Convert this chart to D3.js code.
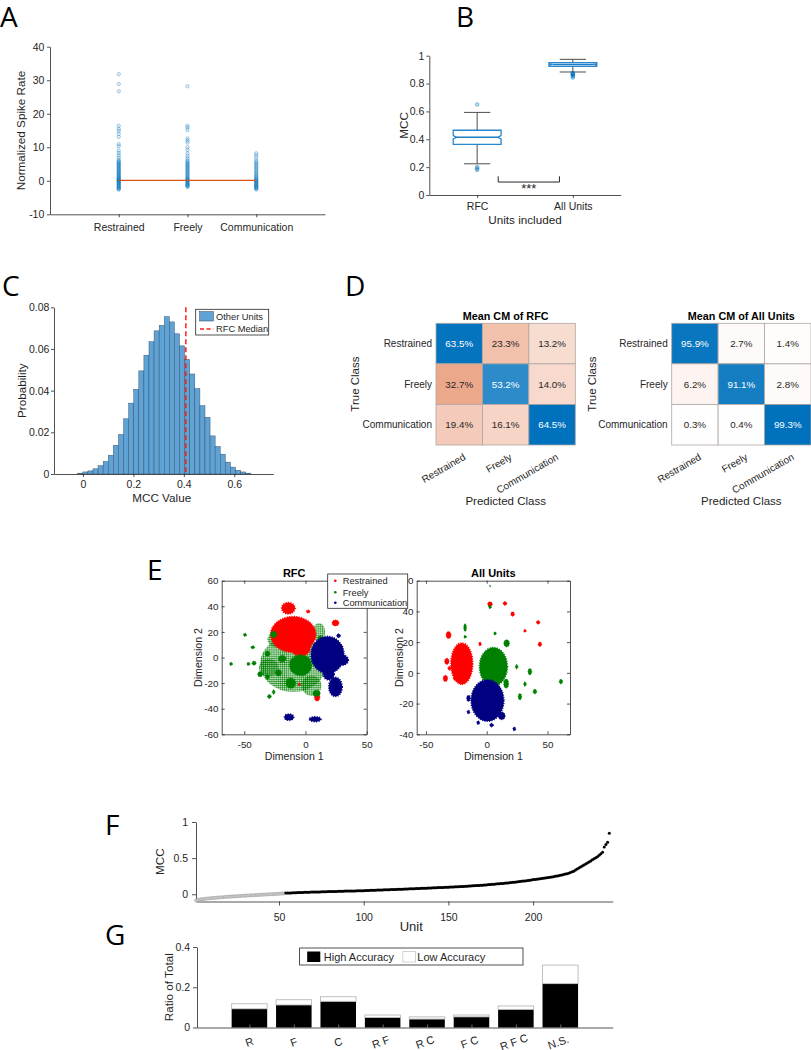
<!DOCTYPE html>
<html><head><meta charset="utf-8">
<script src="https://cdn.jsdelivr.net/npm/d3@7"></script>
<style>
body{margin:0;background:#fff;}
svg{display:block;background:#fff;}
</style></head><body>
<svg id="fig" width="811" height="1050"></svg>
<script>
// ================= DATA =================
// Panel A
const aCategories = ["Restrained","Freely","Communication"];
const aRestrained = [31.8,28.9,26.7,16.4,15.5,14.9,14.0,13.1,10.9,10.3,9.0,8.3,7.6,6.9,6.3,5.9,5.6,5.4,5.1,4.9,4.6,4.4,4.1,3.9,3.6,3.4,3.1,2.9,2.6,2.4,2.1,1.9,1.7,1.4,1.2,1.0,0.8,0.6,0.4,0.3,0.1,0.0,-0.1,-0.3,-0.5,-0.7,-0.9,-1.1,-1.3,-1.5,-1.7,-1.9,-2.1,-2.3,-2.5,-2.6];
const aFreely = [28.2,16.4,15.9,15.1,12.6,12.0,11.4,10.0,9.2,8.2,7.4,6.7,6.1,5.7,5.4,5.1,4.8,4.5,4.2,3.9,3.6,3.3,3.0,2.7,2.4,2.1,1.8,1.5,1.2,0.9,0.7,0.5,0.3,0.1,-0.1,-0.3,-0.5,-0.7,-0.9,-1.1,-1.3,-1.5,-1.7,-1.8];
const aCommunication = [8.2,7.6,6.9,6.1,5.6,5.2,4.8,4.4,4.0,3.6,3.2,2.8,2.4,2.0,1.6,1.3,1.0,0.7,0.4,0.2,0.0,-0.2,-0.4,-0.6,-0.8,-1.0,-1.2,-1.4,-1.6,-1.8,-2.0,-2.2,-2.4,-2.6];
const aMedians = [0.1,0.1,0.1];

// Panel B
const bCategories = ["RFC","All Units"];
const bQ1 = [0.364,0.923];
const bMedian = [0.414,0.937];
const bQ3 = [0.465,0.951];
const bWhiskerLow = [0.224,0.883];
const bWhiskerHigh = [0.593,0.974];
const bNotch = [0.012,0.004];
const bOutliers = [[0.65,0.20,0.19,0.18],[0.876,0.872,0.868,0.864,0.86,0.852,0.843]];

// Panel C
const cBinStart = -0.021;
const cBinWidth = 0.0202;
const cProbability = [0.0004,0.001,0.0015,0.0025,0.004,0.006,0.009,0.0138,0.019,0.0265,0.034,0.0406,0.0495,0.057,0.0635,0.0687,0.0713,0.0755,0.073,0.0673,0.0615,0.055,0.048,0.041,0.0328,0.0272,0.0183,0.0132,0.0095,0.0057,0.0033,0.0018,0.001,0.0004];
const cRfcMedian = 0.408;
const cLegend = ["Other Units","RFC Median"];

// Panel D
const dClasses = ["Restrained","Freely","Communication"];
const dCmRfc = [[63.5,23.3,13.2],[32.7,53.2,14.0],[19.4,16.1,64.5]];
const dCmAll = [[95.9,2.7,1.4],[6.2,91.1,2.8],[0.3,0.4,99.3]];

// Panel E  (clusters: [x, y, rx, ry] in t-SNE units)
const eGroups = ["Restrained","Freely","Communication"];
const eRfcRestrained = [[-10,18,18.5,14],[-4,8,8,7],[-14,38.5,5.5,4.5],[2.2,36,1.5,1.2],[24.5,27,2.8,2.3],[9.5,-31,2.2,3],[-5,-21,1,1],[12,-9.6,0.8,0.8],[29.7,8.6,0.8,0.8]];
const eRfcFreelyDiffuse = [[-10,-5,27,22],[11,20,5,7],[-24,14,7,6],[-30,-8,8,7],[5,-22,8,8]];
const eRfcFreely = [[-4,-6,9,8],[-49.4,17.7,1.3,1.3],[-43,8,1.5,1.2],[-42,-4.4,1.6,1.6],[-46.6,-5,1.2,1.2],[-60.8,-5,1.2,1.2],[-37,-13,2,2],[-31,-15,1.5,2],[-29.5,-30.5,1.5,1.5],[-26,-27,1,1.8],[-31,3,2,2],[-26,18,2.5,2.5],[-19,-1,3,2.5],[9,-28,3,2.5],[-12,-20,4,4],[-22,-12,2.5,2.5],[12,14,2,3]];
const eRfcCommunication = [[18,2,13.5,14.5],[30,-2,5,4],[24.5,-23,5.5,7.5],[19,-13,4.5,4.5],[-13.4,-46.6,3.8,2.5],[7.9,-48.2,4.8,2],[27,17,1.5,1.5]];
const eAllRestrained = [[-20.5,6,9,13.5],[-31.4,24.6,2,2.3],[-32.8,7.5,1.8,2],[-34,-3.6,1.8,2],[-30.6,3,1.3,1.3],[-26,-3.6,1.4,1.4],[2.7,44.8,2,1.5],[15,45.2,1.5,1.2],[21.3,38.3,1.5,1.5],[42.3,32.9,1.4,1.2],[43.7,18.6,1.4,1.5],[31.4,27.4,1,1],[-5.5,18.8,1,1.3]];
const eAllFreely = [[5.5,4,11.5,12.5],[16.4,19.2,2.3,2.3],[2.7,43,1.2,1.2],[-17.8,29.5,1.1,2.5],[-17.8,23.5,1,1],[6.8,25.7,1,1],[24.6,4,1,1.5],[35.5,0.8,1.5,2],[39.6,-12.2,1.5,1.5],[31.4,-7.3,1,1.5],[27.3,-15.5,1.4,2],[61,-5.7,1.4,1.5],[2.7,56.5,0.5,0.5],[16,-7,2,3]];
const eAllCommunication = [[0.6,-18,13.5,13.5],[12.3,-28,2.8,2.5],[-15,-16.6,1.5,2],[-15,-25.5,1.2,1.2],[-7,-32.4,1.2,1.2],[4,-34,1.5,1.2],[22.7,-36.5,1.2,1.2]];

// Panel F (sorted MCC per unit)
const fMccLow = [-0.085,-0.078,-0.074,-0.070,-0.067,-0.064,-0.061,-0.058,-0.056,-0.054,
-0.052,-0.050,-0.048,-0.046,-0.044,-0.042,-0.040,-0.038,-0.036,-0.034,
-0.033,-0.031,-0.030,-0.028,-0.027,-0.025,-0.024,-0.022,-0.021,-0.020,
-0.018,-0.017,-0.015,-0.014,-0.013,-0.011,-0.010,-0.009,-0.007,-0.006,
-0.005,-0.004,-0.002,-0.001,0.000,0.002,0.003,0.004,0.006,0.007,
0.009,0.011,0.013];
const fMccHigh = [0.016,0.017,0.018,0.019,0.020,0.021,0.022,0.023,0.024,0.025,
0.026,0.027,0.027,0.028,0.029,0.030,0.030,0.031,0.032,0.033,
0.033,0.034,0.035,0.036,0.036,0.037,0.038,0.038,0.039,0.040,
0.040,0.041,0.042,0.042,0.043,0.044,0.044,0.045,0.046,0.046,
0.047,0.047,0.048,0.048,0.049,0.050,0.050,
0.051,0.052,0.053,0.054,0.055,0.056,0.057,0.058,0.058,0.059,
0.060,0.061,0.062,0.063,0.064,0.065,0.066,0.067,0.067,0.068,
0.069,0.070,0.071,0.072,0.073,0.074,0.075,0.076,0.077,0.078,
0.079,0.080,0.081,0.082,0.083,0.084,0.085,0.086,0.087,0.088,
0.089,0.090,0.091,0.092,0.093,0.094,0.095,0.096,0.096,0.097,
0.099,0.100,0.101,0.103,0.104,0.105,0.107,0.108,0.109,0.111,
0.112,0.114,0.115,0.117,0.118,0.120,0.121,0.123,0.125,0.126,
0.128,0.130,0.132,0.134,0.136,0.138,0.140,0.142,0.144,0.146,
0.148,0.150,0.153,0.155,0.157,0.160,0.162,0.165,0.168,0.170,
0.173,0.176,0.179,0.182,0.185,0.188,0.191,0.194,0.198,0.203,
0.206,0.209,0.212,0.215,0.218,0.222,0.225,0.229,0.232,0.236,
0.240,0.244,0.248,0.253,0.258,0.263,0.268,0.273,0.279,0.285,
0.292,0.300,0.310,0.320,0.335,0.350,0.362,0.378,0.390,0.405,
0.420,0.433,0.448,0.462,0.478,0.490,0.505,0.520,0.540,0.560,
0.580,0.655,0.690,0.720,0.845];

// Panel G
const gLabels = ["R","F","C","R F","R C","F C","R F C","N.S."];
const gHighAccuracy = [0.093,0.112,0.130,0.050,0.042,0.053,0.090,0.218];
const gLowAccuracy = [0.025,0.026,0.023,0.012,0.011,0.009,0.017,0.092];
const gLegend = ["High Accuracy","Low Accuracy"];

// ================= HELPERS =================
const FONT = '"Liberation Sans", Arial, Helvetica, sans-serif';
const INK = "#262626";
const BLUE = "#0072BD";
const svg = d3.select("#fig").attr("font-family", FONT);
svg.append("rect").attr("width",811).attr("height",1050).attr("fill","#fff");
const fmt = d => String(+(+d).toFixed(3));

function styleAx(g, fs, tickColor) {
  g.attr("font-family", FONT).attr("font-size", fs);
  g.select(".domain").attr("stroke", INK).attr("stroke-width", 0.8);
  g.selectAll(".tick line").attr("stroke", tickColor || INK).attr("stroke-width", 0.8);
  g.selectAll(".tick text").attr("fill", INK);
  return g;
}
function mkAxis(kind, scale, pos, ticks, o = {}) {
  const gen = {left: d3.axisLeft, right: d3.axisRight, top: d3.axisTop, bottom: d3.axisBottom}[kind](scale)
    .tickValues(ticks).tickSizeInner(o.ts ?? 3).tickSizeOuter(0).tickPadding(o.pad ?? 3)
    .tickFormat(o.fmt || fmt);
  const tr = (kind === "left" || kind === "right") ? `translate(${pos},0)` : `translate(0,${pos})`;
  const g = svg.append("g").attr("transform", tr).call(gen);
  return styleAx(g, o.fs ?? 10.5, o.tickColor);
}
function label(x, y, s, o = {}) {
  const t = svg.append("text").attr("x", x).attr("y", y).text(s)
    .attr("font-size", o.fs || 11.7).attr("text-anchor", o.anchor || "middle")
    .attr("fill", o.fill || INK);
  if (o.rot) t.attr("transform", `rotate(${o.rot},${x},${y})`);
  if (o.bold) t.attr("font-weight", "bold");
  if (o.db) t.attr("dominant-baseline", o.db);
  if (o.family) t.attr("font-family", o.family);
  return t;
}
function panelLetter(x, y, s) {
  label(x, y, s, {fs: 28, anchor: "start", fill: "#000", family: '"Open Sans", "Noto Sans", sans-serif'});
}

// ================= PANEL A =================
{
  const xA = d3.scaleLinear().domain([0, 4]).range([50, 325]);
  const yA = d3.scaleLinear().domain([-10, 40]).range([214.3, 46.7]);
  mkAxis("left", yA, 50, [-10, 0, 10, 20, 30, 40], {pad: 2.7});
  mkAxis("bottom", xA, 214.3, [1, 2, 3], {pad: 6, fmt: i => aCategories[i - 1]});
  const g = svg.append("g");
  [aRestrained, aFreely, aCommunication].forEach((arr, i) => {
    g.selectAll(null).data(arr).join("circle")
      .attr("cx", xA(i + 1)).attr("cy", d => yA(d)).attr("r", 1.7)
      .attr("fill", BLUE).attr("fill-opacity", 0.1)
      .attr("stroke", BLUE).attr("stroke-opacity", 0.42).attr("stroke-width", 0.8);
  });
  svg.append("path").attr("d", d3.line()(aMedians.map((m, i) => [xA(i + 1), yA(m)])))
    .attr("stroke", "#D95319").attr("stroke-width", 1.2).attr("fill", "none");
  label(20.7, yA(15), "Normalized Spike Rate", {rot: -90, db: "central"});
  panelLetter(0, 27, "A");
}

// ================= PANEL B =================
{
  const xB = d3.scaleLinear().domain([0.5, 2.5]).range([429.3, 620.7]);
  const yB = d3.scaleLinear().domain([0, 1]).range([195, 55.7]);
  mkAxis("left", yB, 429.3, [0, 0.2, 0.4, 0.6, 0.8, 1], {pad: 2});
  mkAxis("bottom", xB, 195, [1, 2], {pad: 5, fmt: i => bCategories[i - 1]});
  const hw = xB(0.25) - xB(0), cap = xB(0.137) - xB(0), ind = 3.5;
  bCategories.forEach((c, i) => {
    const cx = xB(i + 1);
    const wl = (a, b) => svg.append("line").attr("x1", cx).attr("x2", cx).attr("y1", yB(a)).attr("y2", yB(b))
      .attr("stroke", "#4d4d4d").attr("stroke-width", 1);
    wl(bQ3[i], bWhiskerHigh[i]); wl(bQ1[i], bWhiskerLow[i]);
    [bWhiskerHigh[i], bWhiskerLow[i]].forEach(v => svg.append("line")
      .attr("x1", cx - cap).attr("x2", cx + cap).attr("y1", yB(v)).attr("y2", yB(v))
      .attr("stroke", "#4d4d4d").attr("stroke-width", 1));
    const m = bMedian[i], n = bNotch[i];
    const pts = [[cx - hw, yB(bQ1[i])], [cx - hw, yB(m - n)], [cx - hw + ind, yB(m)], [cx - hw, yB(m + n)], [cx - hw, yB(bQ3[i])],
      [cx + hw, yB(bQ3[i])], [cx + hw, yB(m + n)], [cx + hw - ind, yB(m)], [cx + hw, yB(m - n)], [cx + hw, yB(bQ1[i])]];
    svg.append("path").attr("d", d3.line()(pts) + "Z").attr("fill", "none")
      .attr("stroke", "#2a86cc").attr("stroke-width", 1.3);
    svg.append("line").attr("x1", cx - hw + ind).attr("x2", cx + hw - ind).attr("y1", yB(m)).attr("y2", yB(m))
      .attr("stroke", "#1b7cc6").attr("stroke-width", 1.5);
    svg.selectAll(null).data(bOutliers[i]).join("circle")
      .attr("cx", cx).attr("cy", d => yB(d)).attr("r", 1.8)
      .attr("fill", BLUE).attr("fill-opacity", 0.25).attr("stroke", BLUE).attr("stroke-opacity", 0.55).attr("stroke-width", 0.8);
  });
  svg.append("path").attr("d", `M${xB(1.22)},${yB(0.134)}V${yB(0.093)}H${xB(1.86)}V${yB(0.134)}`)
    .attr("fill", "none").attr("stroke", INK).attr("stroke-width", 1);
  label(xB(1.54), 193, "***", {fs: 13});
  label(403.3, yB(0.5), "MCC", {rot: -90, db: "central"});
  label(525, 224, "Units included");
  panelLetter(456, 27, "B");
}

// ================= PANEL C =================
{
  const xC = d3.scaleLinear().domain([-0.115, 0.755]).range([54, 273.3]);
  const yC = d3.scaleLinear().domain([0, 0.08]).range([474, 307.3]);
  const bw = xC(cBinWidth) - xC(0);
  svg.append("g").selectAll("rect").data(cProbability).join("rect")
    .attr("x", (d, i) => xC(cBinStart + i * cBinWidth)).attr("width", bw)
    .attr("y", d => yC(d)).attr("height", d => yC(0) - yC(d))
    .attr("fill", "#5fa3d6").attr("stroke", "#2b3f52").attr("stroke-width", 0.5).attr("stroke-opacity", 0.8);
  svg.append("line").attr("x1", xC(cRfcMedian)).attr("x2", xC(cRfcMedian)).attr("y1", yC(0.08)).attr("y2", yC(0))
    .attr("stroke", "#FF1a1a").attr("stroke-width", 1.5).attr("stroke-dasharray", "5,3");
  mkAxis("left", yC, 54, [0, 0.02, 0.04, 0.06, 0.08], {pad: 1.7});
  mkAxis("bottom", xC, 474, [0, 0.2, 0.4, 0.6], {pad: 4});
  svg.append("rect").attr("x", 195.7).attr("y", 309.3).attr("width", 73).attr("height", 25.7)
    .attr("fill", "#fff").attr("stroke", INK).attr("stroke-width", 0.8);
  svg.append("rect").attr("x", 199.7).attr("y", 311.7).attr("width", 13.6).attr("height", 9.3)
    .attr("fill", "#5fa3d6").attr("stroke", "#2b3f52").attr("stroke-width", 0.5);
  svg.append("line").attr("x1", 200).attr("x2", 213.3).attr("y1", 329).attr("y2", 329)
    .attr("stroke", "#FF1a1a").attr("stroke-width", 1.3).attr("stroke-dasharray", "4,2.5");
  label(216, 320, cLegend[0], {fs: 9.3, anchor: "start"});
  label(216, 332.3, cLegend[1], {fs: 9.3, anchor: "start"});
  label(21.7, yC(0.04), "Probability", {rot: -90, db: "central"});
  label(161.7, 501.5, "MCC Value");
  panelLetter(2, 296, "C");
}

// ================= PANEL D =================
function drawCM(cm, x0, title, trueX) {
  const y0 = 323.3, size = 139.3;
  const xs = d3.scaleBand().domain(dClasses).range([x0, x0 + size]);
  const ys = d3.scaleBand().domain(dClasses).range([y0, y0 + 121.7]);
  const maxV = d3.max(cm.flat());
  const cells = [];
  cm.forEach((row, r) => row.forEach((v, c) => cells.push({r, c, v})));
  const color = d => {
    const t = d.v / maxV;
    const base = d.r === d.c ? [0, 114, 189] : [217, 83, 25];
    return d3.rgb(...base.map(k => 255 - t * (255 - k)));
  };
  const g = svg.append("g");
  g.selectAll("rect").data(cells).join("rect")
    .attr("x", d => xs(dClasses[d.c])).attr("y", d => ys(dClasses[d.r]))
    .attr("width", xs.bandwidth()).attr("height", ys.bandwidth())
    .attr("fill", color).attr("stroke", "#b0a6a2").attr("stroke-width", 0.8);
  g.selectAll("text").data(cells).join("text")
    .attr("x", d => xs(dClasses[d.c]) + xs.bandwidth() / 2).attr("y", d => ys(dClasses[d.r]) + ys.bandwidth() / 2)
    .attr("text-anchor", "middle").attr("dominant-baseline", "central").attr("font-size", 9.8)
    .attr("fill", d => (d.r === d.c && d.v / maxV > 0.6) ? "#fff" : INK)
    .text(d => d.v.toFixed(1) + "%");
  dClasses.forEach(cl => {
    label(x0 - 4, ys(cl) + ys.bandwidth() / 2, cl, {fs: 10, anchor: "end", db: "central"});
    const cx = xs(cl) + xs.bandwidth() / 2 + 7;
    label(cx, 459, cl, {fs: 10, anchor: "end", rot: -30});
  });
  label(x0 + size / 2, 319.5, title, {fs: 10.8, bold: true, fill: "#000"});
  label(trueX, y0 + 60.8, "True Class", {rot: -90, db: "central", fs: 11.5});
  label(x0 + size / 2, 504.8, "Predicted Class", {fs: 11.5});
}
drawCM(dCmRfc, 436, "Mean CM of RFC", 355);
drawCM(dCmAll, 671.7, "Mean CM of All Units", 591.7);
panelLetter(345, 296, "D");

// ================= PANEL E =================
const eColors = ["#FF0000", "#008000", "#000080"];
const defs = svg.append("defs");
eColors.forEach((c, i) => {
  const p = defs.append("pattern").attr("id", "dots" + i).attr("width", 2.1).attr("height", 2.1)
    .attr("patternUnits", "userSpaceOnUse");
  p.append("circle").attr("cx", 1.05).attr("cy", 1.05).attr("r", 0.85).attr("fill", c);
});
function boxAxes(xs, ys, xt, yt) {
  const [x0, x1] = xs.range(), [yb, yt0] = ys.range();
  mkAxis("bottom", xs, yb, xt, {ts: -3, pad: 7, fs: 9.8});
  mkAxis("top", xs, yt0, xt, {ts: -3, fmt: () => "", fs: 9.8});
  mkAxis("left", ys, x0, yt, {ts: -3, pad: 3.2, fs: 9.8});
  mkAxis("right", ys, x1, yt, {ts: -3, fmt: () => "", fs: 9.8});
}
function blobs(xs, ys, data, colorIdx, diffuse, clipId) {
  const g = svg.append("g").attr("clip-path", `url(#${clipId})`);
  g.selectAll("ellipse").data(data).join("ellipse")
    .attr("cx", d => xs(d[0])).attr("cy", d => ys(d[1]))
    .attr("rx", d => Math.abs(xs(d[0] + d[2]) - xs(d[0]))).attr("ry", d => Math.abs(ys(d[1] + d[3]) - ys(d[1])))
    .attr("fill", diffuse ? `url(#dots${colorIdx})` : eColors[colorIdx])
    .attr("stroke", eColors[colorIdx]).attr("stroke-width", d => diffuse ? 0 : (d[2] > 3 ? 1.6 : 0.9))
    .attr("stroke-dasharray", "1,1.4");
}
function tsne(xs, ys, xt, yt, sets, title, clipId, ylabX) {
  const [x0, x1] = xs.range(), [yb, yt0] = ys.range();
  defs.append("clipPath").attr("id", clipId).append("rect")
    .attr("x", x0).attr("y", yt0).attr("width", x1 - x0).attr("height", yb - yt0);
  sets.forEach(s => blobs(xs, ys, s.data, s.c, s.diffuse, clipId));
  boxAxes(xs, ys, xt, yt);
  label((x0 + x1) / 2, 577, title, {fs: 11, bold: true, fill: "#000"});
  label(ylabX, (yb + yt0) / 2, "Dimension 2", {rot: -90, db: "central", fs: 10.6});
  label((x0 + x1) / 2, 759.5, "Dimension 1", {fs: 10.6});
}
{
  const xs1 = d3.scaleLinear().domain([-68.4, 50]).range([221.7, 366.7]);
  const ys1 = d3.scaleLinear().domain([-60, 60]).range([734.3, 580.7]);
  tsne(xs1, ys1, [-50, 0, 50], [-60, -40, -20, 0, 20, 40, 60], [
    {data: eRfcFreelyDiffuse, c: 1, diffuse: true},
    {data: eRfcRestrained, c: 0},
    {data: eRfcFreely, c: 1},
    {data: eRfcCommunication, c: 2}
  ], "RFC", "clipE1", 197.5);
  const xs2 = d3.scaleLinear().domain([-57.6, 68.5]).range([416.7, 570]);
  const ys2 = d3.scaleLinear().domain([-40, 60]).range([734.3, 580.7]);
  tsne(xs2, ys2, [-50, 0, 50], [-40, -20, 0, 20, 40, 60], [
    {data: eAllRestrained, c: 0},
    {data: eAllFreely, c: 1},
    {data: eAllCommunication, c: 2}
  ], "All Units", "clipE2", 398.5);
  svg.append("rect").attr("x", 327.7).attr("y", 574).attr("width", 80).attr("height", 34.3)
    .attr("fill", "#fff").attr("stroke", INK).attr("stroke-width", 0.8);
  eGroups.forEach((gname, i) => {
    const y = [580.7, 592.3, 602.7][i];
    svg.append("circle").attr("cx", 335.3).attr("cy", y).attr("r", 1.3).attr("fill", eColors[i]);
    label(342.7, y + 3.3, gname, {fs: 9.3, anchor: "start"});
  });
  panelLetter(147, 580, "E");
}

// ================= PANEL F =================
{
  const xF = d3.scaleLinear().domain([1, 247]).range([196, 612.7]);
  const yF = d3.scaleLinear().domain([-0.1, 1]).range([901.5, 822.0]);
  mkAxis("left", yF, 196, [0, 0.5, 1], {ts: 4, pad: 4});
  mkAxis("bottom", xF, 901.5, [50, 100, 150, 200], {ts: 4, pad: 8});
  svg.append("g").selectAll("circle").data(fMccLow).join("circle")
    .attr("cx", (d, i) => xF(i + 1)).attr("cy", d => yF(d)).attr("r", 1.5)
    .attr("fill", "#d6d6d6").attr("stroke", "#9a9a9a").attr("stroke-width", 0.6);
  svg.append("g").selectAll("circle").data(fMccHigh).join("circle")
    .attr("cx", (d, i) => xF(fMccLow.length + i + 1)).attr("cy", d => yF(d)).attr("r", 1.5)
    .attr("fill", "#000");
  label(160, 861.7, "MCC", {rot: -90, db: "central"});
  label(411.3, 931, "Unit", {fs: 13});
  panelLetter(105, 835, "F");
}

// ================= PANEL G =================
{
  const xG = d3.scaleLinear().domain([-0.18, 9.18]).range([197, 612.7]);
  const yG = d3.scaleLinear().domain([0, 0.4]).range([1027.5, 947]);
  const bw = (xG(1) - xG(0)) * 0.8;
  const g = svg.append("g");
  g.selectAll("rect.hi").data(gHighAccuracy).join("rect").attr("class", "hi")
    .attr("x", (d, i) => xG(i + 1) - bw / 2).attr("width", bw)
    .attr("y", d => yG(d)).attr("height", d => yG(0) - yG(d)).attr("fill", "#000");
  g.selectAll("rect.lo").data(gLowAccuracy).join("rect").attr("class", "lo")
    .attr("x", (d, i) => xG(i + 1) - bw / 2).attr("width", bw)
    .attr("y", (d, i) => yG(gHighAccuracy[i] + d)).attr("height", (d, i) => yG(gHighAccuracy[i]) - yG(gHighAccuracy[i] + d))
    .attr("fill", "#fff").attr("stroke", "#b8b8b8").attr("stroke-width", 0.9);
  mkAxis("left", yG, 197, [0, 0.2, 0.4], {ts: 4, pad: 3});
  mkAxis("bottom", xG, 1027.5, d3.range(1, 9), {ts: -3, fmt: () => "", tickColor: "#8a8a8a"});
  gLabels.forEach((s, i) => {
    label(xG(i + 1) - (s.length > 1 ? 2 : 0), 1042, s, {fs: 11, rot: -20, db: "central"});
  });
  svg.append("rect").attr("x", 299.6).attr("y", 948).attr("width", 223.4).attr("height", 17)
    .attr("fill", "#fff").attr("stroke", INK).attr("stroke-width", 0.8);
  svg.append("rect").attr("x", 307.2).attr("y", 951.5).attr("width", 13.1).attr("height", 10.5).attr("fill", "#000");
  svg.append("rect").attr("x", 402.8).attr("y", 951.5).attr("width", 12.8).attr("height", 10.5)
    .attr("fill", "#fff").attr("stroke", "#c8c8c8").attr("stroke-width", 0.8);
  label(323.8, 960.5, gLegend[0], {fs: 11, anchor: "start"});
  label(417.3, 960.5, gLegend[1], {fs: 11, anchor: "start"});
  label(168, yG(0.2), "Ratio of Total", {rot: -90, db: "central"});
  panelLetter(105, 945, "G");
}
</script>
</body></html>
